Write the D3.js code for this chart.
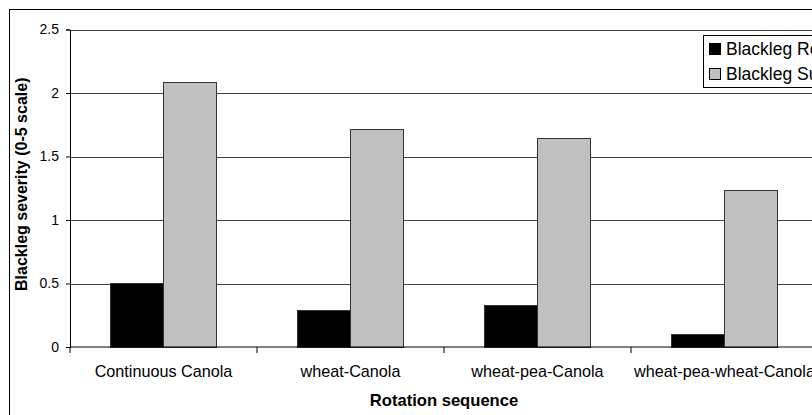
<!DOCTYPE html>
<html>
<head>
<meta charset="utf-8">
<script src="https://cdn.jsdelivr.net/npm/d3@7"></script>
<style>
  body { margin: 0; background: #fff; }
  svg { display: block; font-family: Arial, "Liberation Sans", sans-serif; }
</style>
</head>
<body>
<script>
var categories = ["Continuous Canola", "wheat-Canola", "wheat-pea-Canola", "wheat-pea-wheat-Canola"];
var series = ["Blackleg Resistant", "Blackleg Susceptible"];
var resistant = [0.5, 0.29, 0.33, 0.1];
var susceptible = [2.08, 1.71, 1.64, 1.23];
var yTicks = [0, 0.5, 1, 1.5, 2, 2.5];
var colors = ["#000000", "#c0c0c0"];

var width = 812,
    height = 415;

var plotLeft = 70, plotRight = 818, plotTop = 29.5, plotBottom = 347;

var svg = d3.select("body").append("svg")
    .attr("width", width)
    .attr("height", height);

// outer chart border (runs off the picture)
svg.append("rect")
    .attr("x", 9.5).attr("y", 9.5)
    .attr("width", 840).attr("height", 440)
    .attr("fill", "#fff")
    .attr("stroke", "#000");

var x0 = d3.scaleBand()
    .domain(categories)
    .range([plotLeft, plotRight])
    .padding(0);

var x1 = d3.scaleBand()
    .domain(series)
    .range([0, x0.bandwidth()])
    .paddingInner(0)
    .paddingOuter(0.75);

var y = d3.scaleLinear()
    .domain([0, 2.5])
    .range([plotBottom, plotTop]);

// gridlines
svg.append("g")
    .attr("transform", "translate(" + plotLeft + ",0)")
    .call(d3.axisLeft(y).tickValues(yTicks.slice(1)).tickSize(-(plotRight - plotLeft)).tickFormat(""))
    .call(function(g) {
        g.select(".domain").remove();
        g.selectAll("line").attr("stroke", "#404040").attr("shape-rendering", "crispEdges");
    });

var data = categories.map(function(c, i) {
    return { cat: c, values: [resistant[i], susceptible[i]] };
});

var groups = svg.selectAll("g.grp")
    .data(data)
    .enter().append("g")
    .attr("class", "grp")
    .attr("transform", function(d) { return "translate(" + x0(d.cat) + ",0)"; });

groups.selectAll("rect")
    .data(function(d) { return d.values.map(function(v, j) { return { s: series[j], v: v, j: j }; }); })
    .enter().append("rect")
    .attr("x", function(d) { return x1(d.s); })
    .attr("y", function(d) { return y(d.v); })
    .attr("width", x1.bandwidth())
    .attr("height", function(d) { return y(0) - y(d.v); })
    .attr("fill", function(d) { return colors[d.j]; })
    .attr("stroke", "#333")
    .attr("stroke-width", 1)
    .attr("shape-rendering", "crispEdges");

// y axis
svg.append("g")
    .attr("transform", "translate(" + plotLeft + ",0)")
    .call(d3.axisLeft(y).tickValues(yTicks).tickSize(4).tickPadding(7).tickFormat(function(d) { return d; }))
    .call(function(g) {
        g.select(".domain").attr("stroke", "#000");
        g.selectAll("line").attr("stroke", "#000");
        g.selectAll("text").attr("font-size", 14).attr("fill", "#000")
            .attr("font-family", "Arial, 'Liberation Sans', sans-serif");
    });

// x axis with ticks between categories
var xAxis = svg.append("g")
    .attr("transform", "translate(0," + plotBottom + ")");
xAxis.append("line")
    .attr("x1", plotLeft).attr("x2", plotRight)
    .attr("stroke", "#000");
xAxis.selectAll("line.tk")
    .data(categories.concat(["end"]))
    .enter().append("line")
    .attr("class", "tk")
    .attr("x1", function(d, i) { return plotLeft + i * x0.step(); })
    .attr("x2", function(d, i) { return plotLeft + i * x0.step(); })
    .attr("y1", 0).attr("y2", 6)
    .attr("stroke", "#000");
xAxis.selectAll("text")
    .data(categories)
    .enter().append("text")
    .attr("x", function(d) { return x0(d) + x0.bandwidth() / 2; })
    .attr("y", 30)
    .attr("text-anchor", "middle")
    .attr("font-size", 16.2)
    .text(function(d) { return d; });

// axis titles
svg.append("text")
    .attr("x", (plotLeft + plotRight) / 2)
    .attr("y", 405.5)
    .attr("text-anchor", "middle")
    .attr("font-size", 16.6)
    .attr("font-weight", "bold")
    .text("Rotation sequence");

svg.append("text")
    .attr("transform", "translate(27," + ((plotTop + plotBottom) / 2 - 4) + ") rotate(-90)")
    .attr("text-anchor", "middle")
    .attr("font-size", 16)
    .attr("font-weight", "bold")
    .text("Blackleg severity (0-5 scale)");

// legend
var legend = svg.append("g")
    .attr("transform", "translate(703.5,35.5)");
legend.append("rect")
    .attr("width", 200).attr("height", 52)
    .attr("fill", "#fff")
    .attr("stroke", "#000");
var items = legend.selectAll("g.item")
    .data(series)
    .enter().append("g")
    .attr("class", "item")
    .attr("transform", function(d, i) { return "translate(0," + (i * 25) + ")"; });
items.append("rect")
    .attr("x", 6).attr("y", 8)
    .attr("width", 11).attr("height", 11)
    .attr("fill", function(d, i) { return colors[i]; })
    .attr("stroke", "#000")
    .attr("shape-rendering", "crispEdges");
items.append("text")
    .attr("x", 22.5).attr("y", 19.5)
    .attr("font-size", 17.5)
    .text(function(d) { return d; });
</script>
</body>
</html>
